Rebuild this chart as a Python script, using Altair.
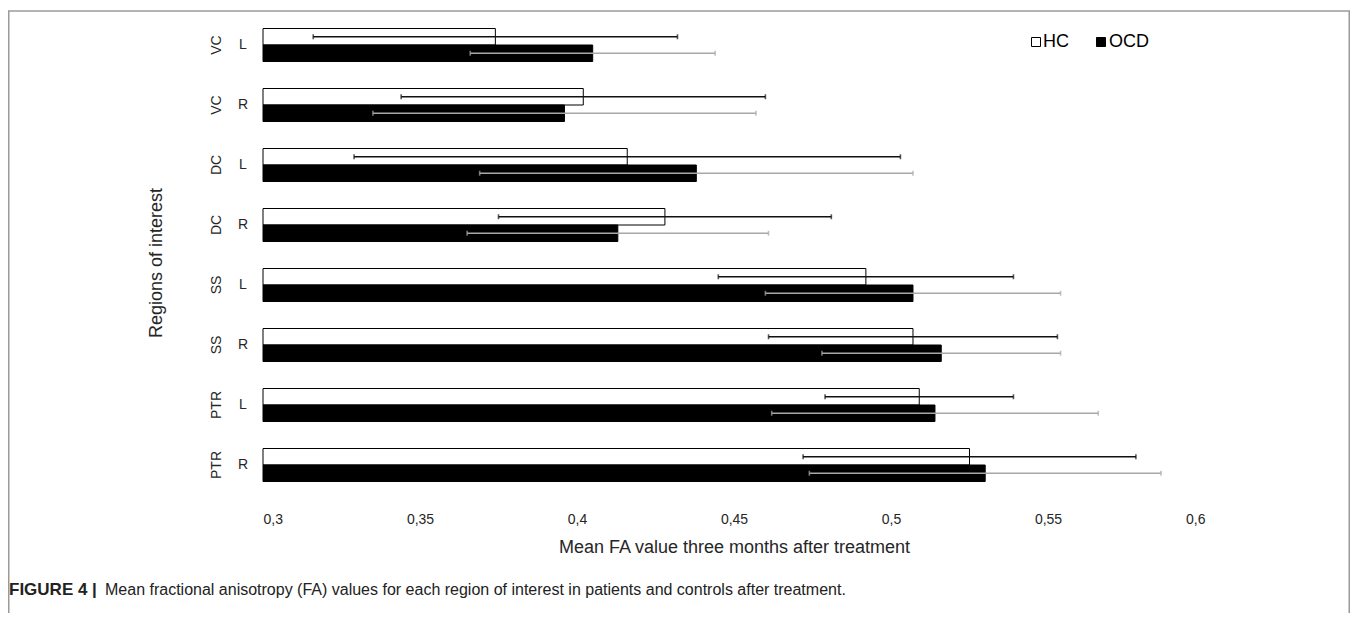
import altair as alt
import pandas as pd

# ---- data ----
regions = ["VC", "VC", "DC", "DC", "SS", "SS", "PTR", "PTR"]
sides = ["L", "R", "L", "R", "L", "R", "L", "R"]
hc_mean = [0.374, 0.402, 0.416, 0.428, 0.492, 0.507, 0.509, 0.525]
hc_sd = [0.058, 0.058, 0.087, 0.053, 0.047, 0.046, 0.030, 0.053]
ocd_mean = [0.405, 0.396, 0.438, 0.413, 0.507, 0.516, 0.514, 0.530]
ocd_sd = [0.039, 0.061, 0.069, 0.048, 0.047, 0.038, 0.052, 0.056]
groups = ["HC", "OCD"]
x_ticks = [0.3, 0.35, 0.4, 0.45, 0.5, 0.55, 0.6]

x_title = "Mean FA value three months after treatment"
y_title = "Regions of interest"
caption_bold = "FIGURE 4 |"
caption_text = ("Mean fractional anisotropy (FA) values for each region of interest "
                "in patients and controls after treatment.")

FONT = "Liberation Sans"
TXT = "#262626"

keys = [f"{r} {s}" for r, s in zip(regions, sides)]
rows = []
for i, k in enumerate(keys):
    for g, m, s in (("HC", hc_mean[i], hc_sd[i]), ("OCD", ocd_mean[i], ocd_sd[i])):
        rows.append(dict(key=k, group=g, mean=m, lo=m - s, hi=m + s, base=0.3))
df = pd.DataFrame(rows)
lab = pd.DataFrame({"key": keys, "region": regions, "side": sides})
one = pd.DataFrame({"a": [0]})

x_scale = alt.Scale(domain=[0.3, 0.6], nice=False, zero=False)
y_scale = alt.Scale(domain=keys, paddingInner=0.45, paddingOuter=0.225)
off_scale = alt.Scale(domain=groups, paddingInner=0, paddingOuter=0)

Y = alt.Y("key:N", scale=y_scale, axis=None, sort=keys)
YO = alt.YOffset("group:N", scale=off_scale, sort=groups)

bars = alt.Chart(df).mark_bar(stroke="black", strokeWidth=1).encode(
    y=Y, yOffset=YO,
    x=alt.X("mean:Q", scale=x_scale, title=x_title,
            axis=alt.Axis(values=x_ticks, domain=False, ticks=False, grid=False,
                          labelExpr="replace(format(datum.value, '.2~f'), '.', ',')",
                          labelFont=FONT, labelFontSize=14, labelColor=TXT,
                          labelPadding=17, titleFont=FONT, titleFontSize=18,
                          titleFontWeight="normal", titleColor=TXT, titlePadding=12)),
    x2="base:Q",
    fill=alt.Fill("group:N", scale=alt.Scale(domain=groups, range=["white", "black"]),
                  legend=None),
)

err_color = alt.Color("group:N", scale=alt.Scale(domain=groups, range=["#111111", "#a8a8a8"]),
                      legend=None)
err = alt.Chart(df).mark_rule(strokeWidth=1.6).encode(
    y=Y, yOffset=YO, x="lo:Q", x2="hi:Q", color=err_color)

caps = alt.Chart(df).transform_fold(["lo", "hi"], as_=["end", "val"]).mark_tick(
    size=5, thickness=1.6).encode(y=Y, yOffset=YO, x="val:Q", color=err_color)

side_txt = alt.Chart(lab).mark_text(font=FONT, fontSize=14, color=TXT,
                                    align="center", baseline="middle").encode(
    y=Y, x=alt.value(-20), text="side:N")
reg_txt = alt.Chart(lab).mark_text(font=FONT, fontSize=14, color=TXT, angle=270,
                                   align="center", baseline="middle").encode(
    y=Y, x=alt.value(-46), text="region:N")

ytitle = alt.Chart(one).mark_text(font=FONT, fontSize=18, color=TXT, angle=270,
                                  align="center", baseline="middle").encode(
    x=alt.value(-106), y=alt.value(248), text=alt.value(y_title))

leg_sq = alt.layer(
    alt.Chart(one).mark_point(shape="square", size=81, strokeWidth=1, opacity=1,
                              fill="white", stroke="black").encode(
        x=alt.value(773), y=alt.value(27)),
    alt.Chart(one).mark_point(shape="square", size=81, strokeWidth=1, opacity=1,
                              fill="black", stroke="black").encode(
        x=alt.value(838), y=alt.value(27)),
)
leg_txt = alt.layer(
    alt.Chart(one).mark_text(font=FONT, fontSize=18, color="black", align="left",
                             baseline="middle").encode(
        x=alt.value(780), y=alt.value(27), text=alt.value(groups[0])),
    alt.Chart(one).mark_text(font=FONT, fontSize=18, color="black", align="left",
                             baseline="middle").encode(
        x=alt.value(846), y=alt.value(27), text=alt.value(groups[1])),
)

cap1 = alt.Chart(one).mark_text(font=FONT, fontSize=17, fontWeight="bold", color="#222",
                                align="left", baseline="middle").encode(
    x=alt.value(-254), y=alt.value(575), text=alt.value(caption_bold))
cap2 = alt.Chart(one).mark_text(font=FONT, fontSize=16, color="#222",
                                align="left", baseline="middle").encode(
    x=alt.value(-158), y=alt.value(575), text=alt.value(caption_text))

frame = alt.Chart(one).mark_rect(fillOpacity=0, stroke="#9a9a9a", strokeWidth=1.5).encode(
    x=alt.value(-254.25), x2=alt.value(1086.25), y=alt.value(-4), y2=alt.value(700))

chart = alt.layer(frame, bars, err, caps, side_txt, reg_txt, ytitle, leg_sq, leg_txt,
                  cap1, cap2).properties(
    width=942, height=480,
    padding={"left": 255, "top": 7, "right": 145, "bottom": 118},
    autosize=alt.AutoSizeParams(type="none"),
    background="white",
).configure_view(strokeWidth=0)

chart.save("out.html", embed_options={"renderer": "svg", "actions": False})
